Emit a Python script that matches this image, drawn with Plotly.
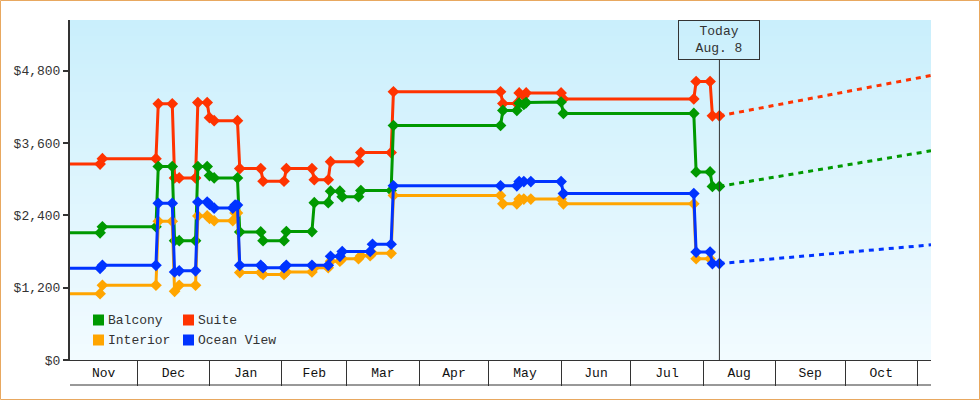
import plotly.graph_objects as go
import pandas as pd

# ---------------- data ----------------
suite_dates = ["2010-11-02", "2010-11-15", "2010-11-16", "2010-12-09", "2010-12-10", "2010-12-16",
               "2010-12-17", "2010-12-19", "2010-12-26", "2010-12-27", "2010-12-31", "2011-01-01",
               "2011-01-03", "2011-01-13", "2011-01-14", "2011-01-23", "2011-01-24", "2011-02-02",
               "2011-02-03", "2011-02-14", "2011-02-15", "2011-02-21", "2011-02-22", "2011-03-06",
               "2011-03-07", "2011-03-20", "2011-03-21", "2011-05-06", "2011-05-07", "2011-05-13",
               "2011-05-14", "2011-05-16", "2011-05-17", "2011-06-01", "2011-06-02", "2011-07-28",
               "2011-07-29", "2011-08-04", "2011-08-05", "2011-08-08"]
suite_prices = [3250, 3250, 3340, 3340, 4250, 4250, 3020, 3020, 3020, 4270,
                4270, 4020, 3970, 3970, 3175, 3175, 2965, 2965, 3175, 3175,
                2990, 2990, 3290, 3290, 3440, 3440, 4450, 4450, 4255, 4255,
                4430, 4380, 4430, 4430, 4330, 4330, 4620, 4620, 4050, 4050]

balcony_dates = ["2010-11-02", "2010-11-15", "2010-11-16", "2010-12-09", "2010-12-10", "2010-12-16",
                 "2010-12-17", "2010-12-19", "2010-12-26", "2010-12-27", "2010-12-31", "2011-01-01",
                 "2011-01-03", "2011-01-13", "2011-01-14", "2011-01-23", "2011-01-24", "2011-02-02",
                 "2011-02-03", "2011-02-14", "2011-02-15", "2011-02-21", "2011-02-22", "2011-02-26",
                 "2011-02-27", "2011-03-06", "2011-03-07", "2011-03-20", "2011-03-21", "2011-05-06",
                 "2011-05-07", "2011-05-13", "2011-05-14", "2011-05-16", "2011-05-17", "2011-06-01",
                 "2011-06-02", "2011-07-28", "2011-07-29", "2011-08-04", "2011-08-05", "2011-08-08"]
balcony_prices = [2110, 2110, 2210, 2210, 3210, 3210, 1980, 1980, 1980, 3210,
                  3210, 3060, 3020, 3020, 2125, 2125, 1980, 1980, 2130, 2130,
                  2610, 2610, 2800, 2800, 2710, 2710, 2810, 2810, 3890, 3890,
                  4140, 4140, 4260, 4240, 4270, 4280, 4090, 4090, 3120, 3120,
                  2880, 2880]

ocean_dates = ["2010-11-02", "2010-11-15", "2010-11-16", "2010-12-09", "2010-12-10", "2010-12-16",
               "2010-12-17", "2010-12-19", "2010-12-26", "2010-12-27", "2010-12-31", "2011-01-01",
               "2011-01-03", "2011-01-11", "2011-01-12", "2011-01-13", "2011-01-14", "2011-01-23",
               "2011-01-24", "2011-02-02", "2011-02-03", "2011-02-14", "2011-02-21", "2011-02-22",
               "2011-02-26", "2011-02-27", "2011-03-11", "2011-03-12", "2011-03-20", "2011-03-21",
               "2011-05-06", "2011-05-13", "2011-05-14", "2011-05-16", "2011-05-19", "2011-06-01",
               "2011-06-02", "2011-07-28", "2011-07-29", "2011-08-04", "2011-08-05", "2011-08-08"]
ocean_prices = [1520, 1520, 1570, 1570, 2600, 2600, 1460, 1480, 1480, 2620,
                2620, 2580, 2520, 2520, 2570, 2570, 1570, 1570, 1530, 1530,
                1570, 1570, 1570, 1720, 1720, 1800, 1800, 1920, 1920, 2890,
                2890, 2890, 2960, 2960, 2960, 2960, 2760, 2760, 1790, 1790,
                1600, 1600]

interior_dates = ["2010-11-02", "2010-11-15", "2010-11-16", "2010-12-09", "2010-12-10", "2010-12-16",
                  "2010-12-17", "2010-12-19", "2010-12-26", "2010-12-27", "2010-12-31", "2011-01-01",
                  "2011-01-03", "2011-01-11", "2011-01-12", "2011-01-13", "2011-01-14", "2011-01-23",
                  "2011-01-24", "2011-02-02", "2011-02-03", "2011-02-14", "2011-02-15", "2011-02-21",
                  "2011-02-22", "2011-02-26", "2011-02-27", "2011-03-06", "2011-03-07", "2011-03-11",
                  "2011-03-12", "2011-03-20", "2011-03-21", "2011-05-06", "2011-05-07", "2011-05-13",
                  "2011-05-14", "2011-05-16", "2011-05-19", "2011-06-01", "2011-06-02", "2011-07-28",
                  "2011-07-29", "2011-08-04"]
interior_prices = [1100, 1100, 1240, 1240, 2300, 2300, 1140, 1240, 1240, 2390,
                   2390, 2350, 2310, 2310, 2440, 2440, 1450, 1450, 1420, 1420,
                   1460, 1460, 1530, 1530, 1640, 1640, 1680, 1680, 1730, 1730,
                   1770, 1770, 2730, 2730, 2590, 2590, 2670, 2670, 2670, 2670,
                   2590, 2590, 1680, 1680]

projection_dates = ["2011-08-08", "2011-11-06 21:00"]
suite_projection = [4050, 4720]
balcony_projection = [2880, 3470]
ocean_projection = [1600, 1910]

today = "2011-08-08"
today_label = "Today<br>Aug. 8"
x_range = ["2010-11-02 02:00", "2011-11-06 21:00"]
y_ticks = [0, 1200, 2400, 3600, 4800]
y_max = 5640

# ---------------- style ----------------
FONT = "Liberation Mono"
DARK = "#333333"
colors = {"Balcony": "#009900", "Suite": "#ff3300", "Interior": "#ffa500", "Ocean View": "#0033ff"}

W, H = 980, 400
ML, MR, MT, MB = 70, 49, 20, 40
PW, PH = W - ML - MR, H - MT - MB

fig = go.Figure()

series = [
    ("Suite", suite_dates, suite_prices),
    ("Balcony", balcony_dates, balcony_prices),
    ("Interior", interior_dates, interior_prices),
    ("Ocean View", ocean_dates, ocean_prices),
]
projections = [
    ("Suite", suite_projection),
    ("Balcony", balcony_projection),
    ("Ocean View", ocean_projection),
]
for name, proj in projections:
    fig.add_trace(go.Scatter(x=projection_dates, y=proj, mode="lines", showlegend=False,
                             line=dict(color=colors[name], width=3, dash="5px,5px"),
                             cliponaxis=True, hoverinfo="skip"))
for name, d, p in series:
    fig.add_trace(go.Scatter(x=d, y=p, mode="lines+markers", name=name, showlegend=False,
                             line=dict(color=colors[name], width=3),
                             marker=dict(symbol="diamond", size=9, color=colors[name]),
                             cliponaxis=False))

shapes = []
# gradient background (bands)
top_rgb = (202, 239, 252)
bot_rgb = (242, 251, 255)
nb = 85
for i in range(nb):
    t = i / (nb - 1)
    c = tuple(round(top_rgb[k] + (bot_rgb[k] - top_rgb[k]) * t) for k in range(3))
    shapes.append(dict(type="rect", xref="paper", yref="paper", layer="below",
                       x0=0, x1=1, y0=1 - (i + 1) / nb, y1=1 - i / nb,
                       fillcolor="rgb(%d,%d,%d)" % c, line=dict(width=0)))
# outer border
shapes.append(dict(type="rect", xref="paper", yref="paper",
                   x0=(0.5 - ML) / PW, x1=(W - 0.5 - ML) / PW,
                   y0=(PH + MT - (H - 0.5)) / PH, y1=(PH + MT - 0.5) / PH,
                   line=dict(color="#e8a860", width=1), fillcolor="rgba(0,0,0,0)"))
# bottom line of month band
band_h = 25
shapes.append(dict(type="line", xref="paper", yref="paper", x0=0, x1=1,
                   y0=-band_h / PH, y1=-band_h / PH, line=dict(color=DARK, width=1)))
# today line
shapes.append(dict(type="line", xref="x", yref="paper", x0=today, x1=today,
                   y0=0, y1=(PH - 40) / PH, line=dict(color=DARK, width=1)))

# manual legend
legend_items = [("Balcony", 0, 0), ("Suite", 1, 0), ("Interior", 0, 1), ("Ocean View", 1, 1)]
annotations = []
for name, col, row in legend_items:
    x0 = 93 + col * 90
    yc = 320 + row * 20
    shapes.append(dict(type="rect", xref="paper", yref="paper",
                       x0=(x0 - ML) / PW, x1=(x0 + 11 - ML) / PW,
                       y0=(PH + MT - (yc + 5.5)) / PH, y1=(PH + MT - (yc - 5.5)) / PH,
                       fillcolor=colors[name], line=dict(width=0)))
    annotations.append(dict(xref="paper", yref="paper", x=(x0 + 13 - ML) / PW,
                            y=(PH + MT - yc) / PH, xanchor="left", yanchor="middle",
                            text=name, showarrow=False,
                            font=dict(family=FONT, size=13, color=DARK)))

annotations.append(dict(xref="x", yref="paper", x=today, y=1, xanchor="center", yanchor="top",
                        text=today_label, showarrow=False, align="center",
                        font=dict(family=FONT, size=13, color=DARK),
                        bordercolor=DARK, borderwidth=1, borderpad=2, width=76, height=34))

# month ticks
rs, re_ = pd.Timestamp(x_range[0]), pd.Timestamp(x_range[1])
month_starts = pd.date_range("2010-12-01", re_, freq="MS")
bounds = [rs] + list(month_starts) + [re_]
tickvals, ticktext = [], []
for a, b in zip(bounds[:-1], bounds[1:]):
    if (b - a).days >= 20:
        tickvals.append(a + (b - a) / 2)
        ticktext.append(a.strftime("%b"))

y_ticktext = ["$" + format(v, ",") for v in y_ticks]

fig.update_layout(
    width=W, height=H, margin=dict(l=ML, r=MR, t=MT, b=MB),
    paper_bgcolor="white", plot_bgcolor="rgba(0,0,0,0)",
    shapes=shapes, annotations=annotations, showlegend=False,
    font=dict(family=FONT, size=13, color=DARK),
    xaxis=dict(type="date", range=x_range, showgrid=False, zeroline=False,
               showline=True, linecolor=DARK, linewidth=1,
               tickmode="array", tickvals=tickvals, ticktext=ticktext, ticks="",
               tickfont=dict(family=FONT, size=13, color="#111111"),
               minor=dict(tickmode="array", tickvals=list(month_starts), ticks="outside",
                          ticklen=band_h, tickcolor=DARK, tickwidth=1, showgrid=False)),
    yaxis=dict(range=[0, y_max], tickmode="array", tickvals=y_ticks, ticktext=y_ticktext,
               showgrid=False, zeroline=False, showline=True,
               linecolor=DARK, linewidth=2, ticks="outside", ticklen=5, tickwidth=2,
               tickcolor=DARK, tickfont=dict(family=FONT, size=13, color=DARK)),
)

fig.write_html("out.html", config={"displayModeBar": False},
               post_script="document.body.style.margin='0';")
